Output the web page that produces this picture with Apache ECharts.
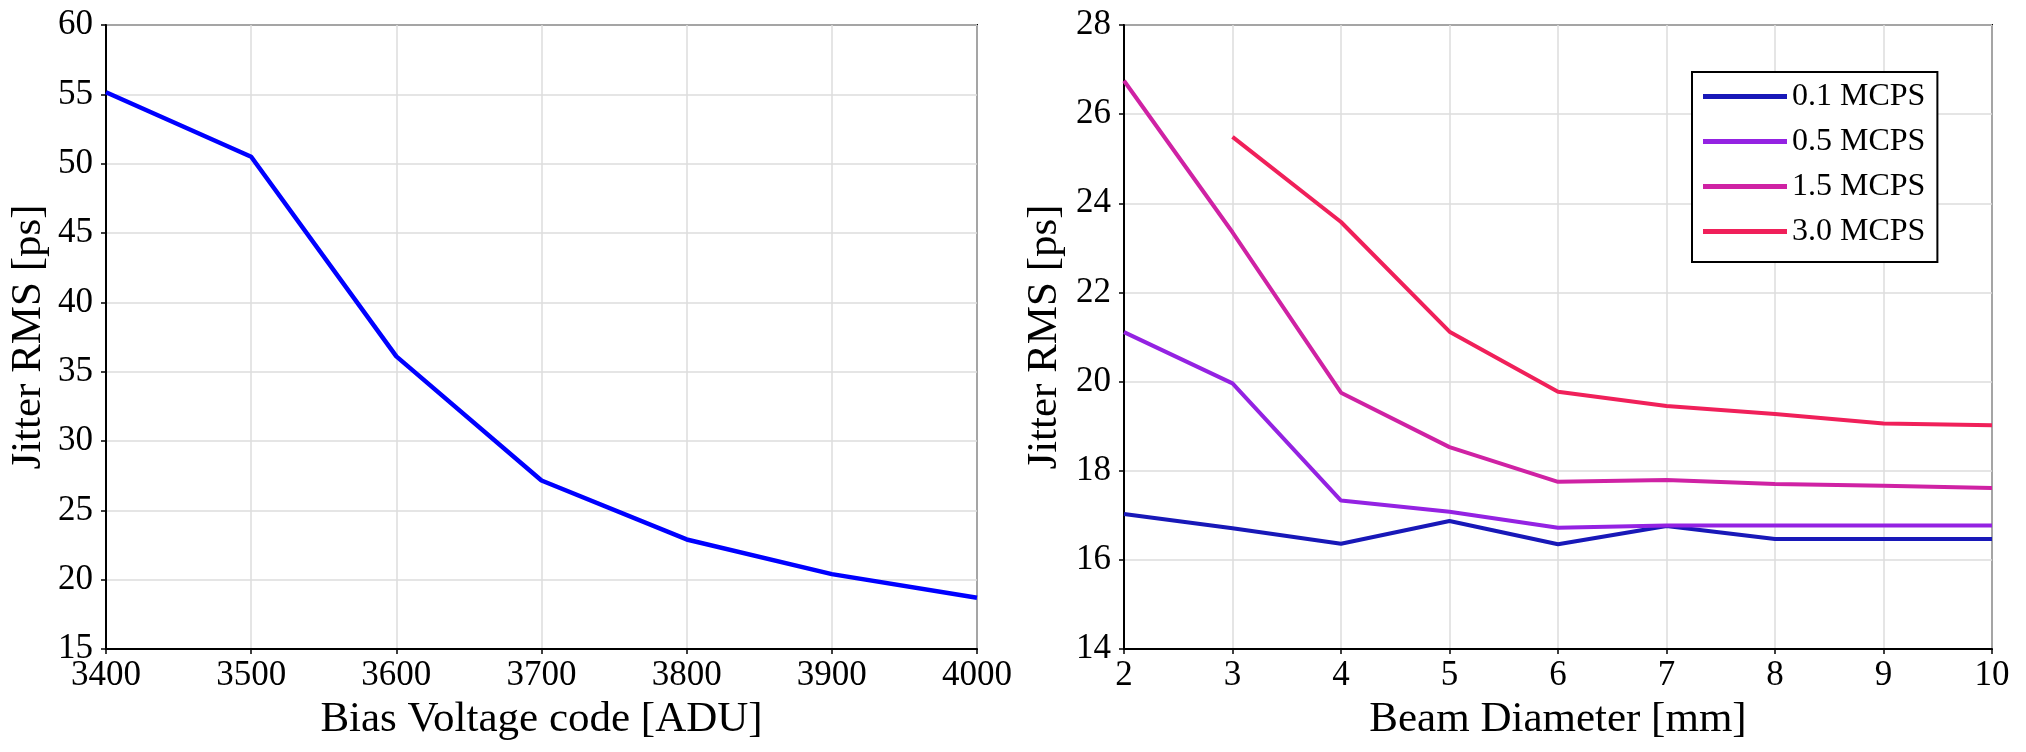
<!DOCTYPE html>
<html>
<head>
<meta charset="utf-8">
<script src="https://cdn.jsdelivr.net/npm/echarts@6/dist/echarts.min.js"></script>
<style>
  html, body { margin: 0; padding: 0; background: #fff; }
  #chart { width: 2026px; height: 752px; }
</style>
</head>
<body>
<div id="chart"></div>
<script>
// left panel: jitter vs bias voltage
const biasCodes = [3400, 3500, 3600, 3700, 3800, 3900, 4000]
const biasJitter = [55.15, 50.5, 36.1, 27.15, 22.9, 20.4, 18.7]

// right panel: jitter vs beam diameter, one array per count rate
const beamDiameters = [2, 3, 4, 5, 6, 7, 8, 9, 10]
const rateNames = ['0.1 MCPS', '0.5 MCPS', '1.5 MCPS', '3.0 MCPS']
const jitter01 = [17.03, 16.71, 16.36, 16.87, 16.35, 16.76, 16.47, 16.47, 16.47]
const jitter05 = [21.11, 19.96, 17.33, 17.08, 16.72, 16.77, 16.77, 16.77, 16.77]
const jitter15 = [26.75, 23.35, 19.75, 18.53, 17.75, 17.79, 17.70, 17.66, 17.61]
const jitter30 = [null, 25.49, 23.58, 21.12, 19.77, 19.45, 19.27, 19.06, 19.02]

const rateColors = ['#1818b8', '#9422e2', '#cf22a4', '#f0205a']
const FONT = 'Liberation Serif'

const myChart = echarts.init(document.getElementById('chart'))

const axisCommon = {
  nameLocation: 'middle',
  nameTextStyle: { fontFamily: FONT, fontSize: 43, color: '#000' },
  axisLine: { show: true, onZero: false, lineStyle: { color: '#000', width: 2 } },
  axisTick: { show: true, inside: false, length: 5, lineStyle: { color: '#000', width: 1.5 } },
  axisLabel: { fontFamily: FONT, fontSize: 35, color: '#000', formatter: v => String(v) },
  splitLine: { show: true, lineStyle: { color: '#dcdcdc', width: 1.5 } }
}

const pairs = (xs, ys) => xs.map((x, i) => [x, ys[i]])

myChart.setOption({
  backgroundColor: '#fff',
  animation: false,
  grid: [
    { left: 106, right: 1049, top: 25, bottom: 103, show: true, borderColor: '#000', borderWidth: 2 },
    { left: 1124, right: 34, top: 25, bottom: 103, show: true, borderColor: '#000', borderWidth: 2 }
  ],
  legend: {
    data: rateNames,
    orient: 'vertical',
    left: 1692,
    top: 72,
    icon: 'rect',
    itemWidth: 84,
    itemHeight: 5,
    itemGap: 12,
    padding: [8, 12, 14, 11],
    borderColor: '#000',
    borderWidth: 2,
    backgroundColor: '#fff',
    textStyle: { fontFamily: FONT, fontSize: 32, color: '#000', lineHeight: 33 }
  },
  xAxis: [
    Object.assign({}, axisCommon, {
      gridIndex: 0, type: 'value', min: 3400, max: 4000, interval: 100,
      name: 'Bias Voltage code [ADU]', nameGap: 44,
      axisLabel: Object.assign({}, axisCommon.axisLabel, { margin: 9 })
    }),
    Object.assign({}, axisCommon, {
      gridIndex: 1, type: 'value', min: 2, max: 10, interval: 1,
      name: 'Beam Diameter [mm]', nameGap: 44,
      axisLabel: Object.assign({}, axisCommon.axisLabel, { margin: 9 })
    })
  ],
  yAxis: [
    Object.assign({}, axisCommon, {
      gridIndex: 0, type: 'value', min: 15, max: 60, interval: 5,
      name: 'Jitter RMS [ps]', nameGap: 56,
      axisLabel: Object.assign({}, axisCommon.axisLabel, { margin: 13 })
    }),
    Object.assign({}, axisCommon, {
      gridIndex: 1, type: 'value', min: 14, max: 28, interval: 2,
      name: 'Jitter RMS [ps]', nameGap: 58,
      axisLabel: Object.assign({}, axisCommon.axisLabel, { margin: 13 })
    })
  ],
  series: [
    {
      type: 'line', xAxisIndex: 0, yAxisIndex: 0,
      data: pairs(biasCodes, biasJitter),
      showSymbol: false, symbol: 'none',
      lineStyle: { color: '#0000ff', width: 4.5 }
    },
    ...[jitter01, jitter05, jitter15, jitter30].map((ys, i) => ({
      name: rateNames[i],
      type: 'line', xAxisIndex: 1, yAxisIndex: 1,
      data: pairs(beamDiameters, ys),
      showSymbol: false, symbol: 'none',
      color: rateColors[i],
      itemStyle: { color: rateColors[i] },
      lineStyle: { color: rateColors[i], width: 4 }
    }))
  ]
})
</script>
</body>
</html>
